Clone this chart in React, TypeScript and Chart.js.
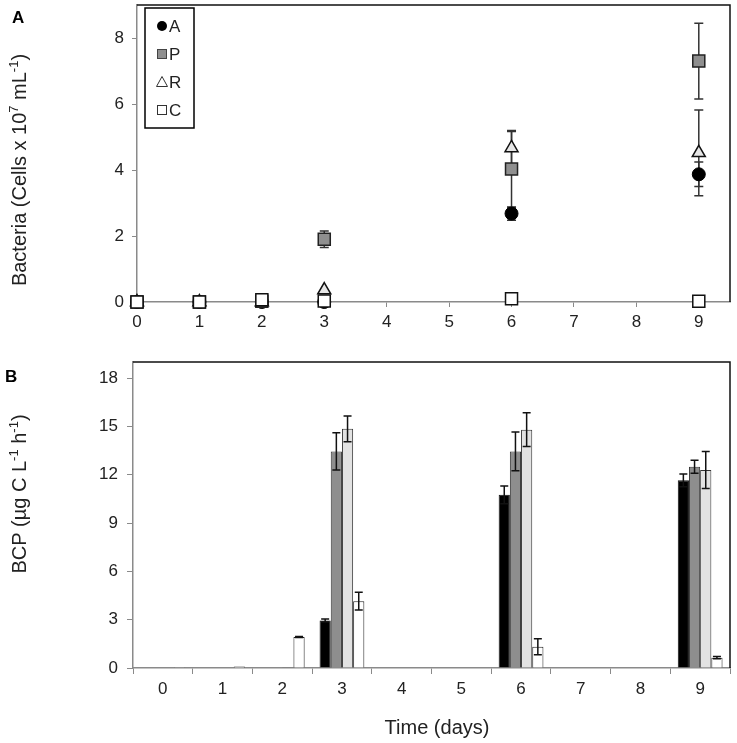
import React, { useEffect, useRef } from 'react';
import { Chart, registerables } from 'chart.js';
Chart.register(...registerables);

const FONT = "'Liberation Sans', Arial, Helvetica, sans-serif";

// ---------- Panel A data (Bacteria, cells x 10^7 mL^-1) ----------
const daysA = [0, 1, 2, 3, 6, 9];
const bactA = [0, 0, 0, 0, 2.68, 3.87];
const bactAErr = [0, 0, 0, 0, 0.2, 0.37];
const bactP = [0, 0, 0.02, 1.9, 4.03, 7.3];
const bactPErr = [0, 0, 0, 0.25, 1.17, 1.15];
const bactR = [0, 0, 0, 0.36, 4.67, 4.52];
const bactRErr = [0, 0, 0, 0, 0.5, 1.3];
const bactC = [0, 0, 0.07, 0.03, 0.1, 0.02];
const bactCErr = [0, 0, 0, 0, 0, 0];
const xTicksA = [0, 1, 2, 3, 4, 5, 6, 7, 8, 9];
const yTicksA = [0, 2, 4, 6, 8];
const legendLabels = ['A', 'P', 'R', 'C'];

// ---------- Panel B data (BCP, µg C L^-1 h^-1) ----------
const dayLabelsB = ['0', '1', '2', '3', '4', '5', '6', '7', '8', '9'];
const bcpA = [0, 0, 0, 2.95, null, null, 10.75, null, null, 11.65];
const bcpAErr = [0, 0, 0, 0.1, null, null, 0.55, null, null, 0.4];
const bcpP = [0, 0, 0, 13.45, null, null, 13.45, null, null, 12.5];
const bcpPErr = [0, 0, 0, 1.15, null, null, 1.2, null, null, 0.4];
const bcpR = [0, 0, 0.04, 14.85, null, null, 14.8, null, null, 12.3];
const bcpRErr = [0, 0, 0, 0.8, null, null, 1.05, null, null, 1.15];
const bcpC = [0.05, 0.1, 1.93, 4.15, null, null, 1.32, null, null, 0.64];
const bcpCErr = [0, 0, 0.03, 0.55, null, null, 0.5, null, null, 0.07];
const yTicksB = [0, 3, 6, 9, 12, 15, 18];

// axis titles (text parts; sup = superscript)
const titleA = [
  { t: 'Bacteria (Cells x 10' },
  { t: '7', sup: true },
  { t: ' mL' },
  { t: '-1', sup: true },
  { t: ')' },
];
const titleB = [
  { t: 'BCP (µg C L' },
  { t: '-1', sup: true },
  { t: ' h' },
  { t: '-1', sup: true },
  { t: ')' },
];
const titleX = 'Time (days)';

const AXIS_GRAY = '#8a8a8a';
const TEXT = '#222';

function drawRich(ctx: CanvasRenderingContext2D, parts: { t: string; sup?: boolean }[], cx: number, cy: number, rotated: boolean) {
  const main = `20px ${FONT}`;
  const small = `13px ${FONT}`;
  let total = 0;
  const widths = parts.map((p) => {
    ctx.font = p.sup ? small : main;
    const w = ctx.measureText(p.t).width;
    total += w;
    return w;
  });
  ctx.save();
  ctx.translate(cx, cy);
  if (rotated) ctx.rotate(-Math.PI / 2);
  ctx.fillStyle = TEXT;
  ctx.textBaseline = 'alphabetic';
  ctx.textAlign = 'left';
  let x = -total / 2;
  parts.forEach((p, i) => {
    ctx.font = p.sup ? small : main;
    ctx.fillText(p.t, x, p.sup ? -1 : 7);
    x += widths[i];
  });
  ctx.restore();
}

function errorBarsPlugin(id: string, hook: 'beforeDatasetsDraw' | 'afterDatasetsDraw', capHalf: number, color: string) {
  return {
    id,
    [hook](chart: any) {
      const ctx = chart.ctx;
      const yScale = chart.scales.y;
      ctx.save();
      ctx.strokeStyle = color;
      ctx.lineWidth = 1.5;
      chart.data.datasets.forEach((ds: any, i: number) => {
        const errs = ds.errors;
        if (!errs) return;
        const meta = chart.getDatasetMeta(i);
        ds.data.forEach((d: any, j: number) => {
          const v = typeof d === 'object' && d !== null ? d.y : d;
          const e = errs[j];
          if (v === null || v === undefined || !e) return;
          const el = meta.data[j];
          if (!el) return;
          const x = el.x;
          const yt = yScale.getPixelForValue(v + e);
          const yb = yScale.getPixelForValue(Math.max(0, v - e));
          ctx.beginPath();
          ctx.moveTo(x, yt);
          ctx.lineTo(x, yb);
          ctx.moveTo(x - capHalf, yt);
          ctx.lineTo(x + capHalf, yt);
          ctx.moveTo(x - capHalf, yb);
          ctx.lineTo(x + capHalf, yb);
          ctx.stroke();
        });
      });
      ctx.restore();
    },
  };
}

function framePlugin(letter: string, lx: number, ly: number, yTitle: any, yTitlePos: [number, number], xTitlePos?: [number, number]) {
  return {
    id: 'frame' + letter,
    afterDraw(chart: any) {
      const { ctx, chartArea } = chart;
      ctx.save();
      ctx.strokeStyle = '#111';
      ctx.lineWidth = 1.5;
      ctx.beginPath();
      ctx.moveTo(chartArea.left, chartArea.top);
      ctx.lineTo(chartArea.right, chartArea.top);
      ctx.lineTo(chartArea.right, chartArea.bottom);
      ctx.stroke();
      ctx.fillStyle = '#000';
      ctx.font = `bold 17px ${FONT}`;
      ctx.textBaseline = 'alphabetic';
      ctx.textAlign = 'left';
      ctx.fillText(letter, lx, ly);
      ctx.restore();
      drawRich(ctx, yTitle, yTitlePos[0], yTitlePos[1], true);
      if (xTitlePos) drawRich(ctx, [{ t: titleX }], xTitlePos[0], xTitlePos[1], false);
    },
  };
}

const legendPlugin = {
  id: 'legendA',
  afterDraw(chart: any) {
    const ctx = chart.ctx;
    ctx.save();
    ctx.fillStyle = '#fff';
    ctx.fillRect(145, 8, 49, 120);
    ctx.strokeStyle = '#000';
    ctx.lineWidth = 1.5;
    ctx.strokeRect(145, 8, 49, 120);
    const rows = [26, 54, 82, 110];
    const mx = 162;
    ctx.lineWidth = 1;
    ctx.beginPath();
    ctx.arc(mx, rows[0], 5, 0, Math.PI * 2);
    ctx.fillStyle = '#000';
    ctx.fill();
    ctx.fillStyle = '#8f8f8f';
    ctx.fillRect(mx - 4.5, rows[1] - 4.5, 9, 9);
    ctx.strokeStyle = '#444';
    ctx.strokeRect(mx - 4.5, rows[1] - 4.5, 9, 9);
    ctx.beginPath();
    ctx.moveTo(mx, rows[2] - 5.5);
    ctx.lineTo(mx + 5.5, rows[2] + 4.5);
    ctx.lineTo(mx - 5.5, rows[2] + 4.5);
    ctx.closePath();
    ctx.fillStyle = '#fff';
    ctx.fill();
    ctx.strokeStyle = '#333';
    ctx.stroke();
    ctx.fillStyle = '#fff';
    ctx.fillRect(mx - 4.5, rows[3] - 4.5, 9, 9);
    ctx.strokeRect(mx - 4.5, rows[3] - 4.5, 9, 9);
    ctx.fillStyle = TEXT;
    ctx.font = `17px ${FONT}`;
    ctx.textBaseline = 'middle';
    ctx.textAlign = 'left';
    legendLabels.forEach((t, i) => ctx.fillText(t, 169, rows[i] + 1));
    ctx.restore();
  },
};

export default function App() {
  const refA = useRef<HTMLCanvasElement>(null);
  const refB = useRef<HTMLCanvasElement>(null);

  useEffect(() => {
    const pts = (ys: number[]) => daysA.map((d, i) => ({ x: d, y: ys[i] }));
    const chartA = new Chart(refA.current!, {
      type: 'scatter',
      data: {
        datasets: [
          { label: 'C', data: pts(bactC), errors: bactCErr, pointStyle: 'rect', pointRadius: 8.5, backgroundColor: '#fff', borderColor: '#111', borderWidth: 1.5, order: 0, clip: false } as any,
          { label: 'R', data: pts(bactR), errors: bactRErr, pointStyle: 'triangle', pointRadius: 7.5, backgroundColor: '#e6e6e6', borderColor: '#111', borderWidth: 1.5, order: 1, clip: false } as any,
          { label: 'P', data: pts(bactP), errors: bactPErr, pointStyle: 'rect', pointRadius: 8.5, backgroundColor: '#8f8f8f', borderColor: '#222', borderWidth: 1.5, order: 2, clip: false } as any,
          { label: 'A', data: pts(bactA), errors: bactAErr, pointStyle: 'circle', pointRadius: 6.5, backgroundColor: '#000', borderColor: '#000', borderWidth: 1, order: 3, clip: false } as any,
        ],
      },
      options: {
        responsive: false,
        animation: false,
        layout: { autoPadding: false, padding: { top: 5, right: 7, left: 0, bottom: 0 } },
        plugins: { legend: { display: false }, tooltip: { enabled: false } },
        scales: {
          x: {
            type: 'linear',
            min: 0,
            max: 9.5,
            afterBuildTicks: (s: any) => { s.ticks = xTicksA.map((v) => ({ value: v })); },
            afterFit: (s: any) => { s.height = 43; s.paddingLeft = 0; s.paddingRight = 0; },
            grid: { drawOnChartArea: false, drawTicks: true, tickLength: 5, color: AXIS_GRAY },
            border: { color: AXIS_GRAY, width: 1.5 },
            ticks: { font: { family: FONT, size: 17 }, color: TEXT, padding: 5, maxRotation: 0 },
          },
          y: {
            min: 0,
            max: 9,
            afterBuildTicks: (s: any) => { s.ticks = yTicksA.map((v) => ({ value: v })); },
            afterFit: (s: any) => { s.width = 137; s.paddingTop = 0; s.paddingBottom = 0; },
            grid: { drawOnChartArea: false, drawTicks: true, tickLength: 5, color: AXIS_GRAY },
            border: { color: AXIS_GRAY, width: 1.5 },
            ticks: { font: { family: FONT, size: 17 }, color: TEXT, padding: 8 },
          },
        },
      },
      plugins: [errorBarsPlugin('errA', 'beforeDatasetsDraw', 4.5, '#333'), framePlugin('A', 12, 23, titleA, [19, 170]), legendPlugin],
    } as any);

    const chartB = new Chart(refB.current!, {
      type: 'bar',
      data: {
        labels: dayLabelsB,
        datasets: [
          { label: 'A', data: bcpA, errors: bcpAErr, backgroundColor: '#000', borderColor: '#111', borderWidth: 1 } as any,
          { label: 'P', data: bcpP, errors: bcpPErr, backgroundColor: '#8e8e8e', borderColor: '#333', borderWidth: 1 } as any,
          { label: 'R', data: bcpR, errors: bcpRErr, backgroundColor: '#e2e2e2', borderColor: '#333', borderWidth: 1 } as any,
          { label: 'C', data: bcpC, errors: bcpCErr, backgroundColor: '#fff', borderColor: '#222', borderWidth: 1 } as any,
        ],
      },
      options: {
        responsive: false,
        animation: false,
        layout: { autoPadding: false, padding: { top: 17, right: 7, left: 0, bottom: 0 } },
        plugins: { legend: { display: false }, tooltip: { enabled: false } },
        datasets: { bar: { categoryPercentage: 0.75, barPercentage: 1.0 } },
        scales: {
          x: {
            afterFit: (s: any) => { s.height = 75; s.paddingLeft = 0; s.paddingRight = 0; },
            grid: { drawOnChartArea: false, drawTicks: true, tickLength: 6, color: AXIS_GRAY, offset: true },
            border: { color: AXIS_GRAY, width: 1.5 },
            ticks: { font: { family: FONT, size: 17 }, color: TEXT, padding: 5, maxRotation: 0 },
          },
          y: {
            min: 0,
            max: 19,
            afterBuildTicks: (s: any) => { s.ticks = yTicksB.map((v) => ({ value: v })); },
            afterFit: (s: any) => { s.width = 133; s.paddingTop = 0; s.paddingBottom = 0; },
            grid: { drawOnChartArea: false, drawTicks: true, tickLength: 6, color: AXIS_GRAY },
            border: { color: AXIS_GRAY, width: 1.5 },
            ticks: { font: { family: FONT, size: 17 }, color: TEXT, padding: 9 },
          },
        },
      },
      plugins: [errorBarsPlugin('errB', 'afterDatasetsDraw', 4, '#111'), framePlugin('B', 5, 37, titleB, [19, 149], [437, 382])],
    } as any);

    return () => {
      chartA.destroy();
      chartB.destroy();
    };
  }, []);

  return (
    <div style={{ position: 'absolute', left: 0, top: 0, width: 737, height: 743, background: '#fff' }}>
      <canvas ref={refA} width={737} height={345} style={{ position: 'absolute', left: 0, top: 0 }} />
      <canvas ref={refB} width={737} height={398} style={{ position: 'absolute', left: 0, top: 345 }} />
    </div>
  );
}
